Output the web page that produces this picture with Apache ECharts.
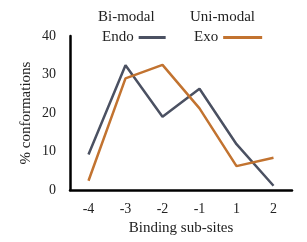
<!DOCTYPE html>
<html><head><meta charset="utf-8">
<script src="https://cdn.jsdelivr.net/npm/echarts@6/dist/echarts.min.js"></script>
<style>html,body{margin:0;padding:0;background:#fff}#c{width:307px;height:242px}</style>
</head><body><div id="c"></div>
<script>
var categories = ['-4','-3','-2','-1','1','2'];
var endo = [9.2, 32.4, 19.0, 26.3, 11.9, 1.1];
var exo = [2.4, 29.0, 32.5, 21.2, 6.2, 8.4];
var seriesNames = ['Endo','Exo'];
var groupTitles = ['Bi-modal','Uni-modal'];
var font = '"Liberation Serif", "Times New Roman", serif';
var chart = echarts.init(document.getElementById('c'), null, {renderer:'canvas'});
var legendText = {fontFamily:font,fontSize:15,color:'#222'};
chart.setOption({
  animation:false,
  backgroundColor:'#fff',
  textStyle:{fontFamily:font},
  grid:{left:70,right:15,top:36,bottom:52},
  graphic:[
    {type:'text',left:98,top:10,style:{text:groupTitles[0],font:'15px '+font,fill:'#222'}},
    {type:'text',left:190,top:10,style:{text:groupTitles[1],font:'15px '+font,fill:'#222'}}
  ],
  legend:[
    {data:[seriesNames[0]], left:97, top:25, align:'right', itemWidth:27, itemHeight:3, icon:'rect', textStyle:legendText},
    {data:[seriesNames[1]], left:189, top:25, align:'right', itemWidth:39, itemHeight:3, icon:'rect', textStyle:legendText}
  ],
  xAxis:{
    type:'category', data:categories, boundaryGap:true,
    axisLine:{lineStyle:{color:'#000',width:2.5}},
    axisTick:{show:false},
    axisLabel:{color:'#222',fontSize:14,fontFamily:font,margin:12},
    name:'Binding sub-sites', nameLocation:'middle', nameGap:31, nameMoveOverlap:false,
    nameTextStyle:{color:'#222',fontSize:15,fontFamily:font}
  },
  yAxis:{
    type:'value', min:0, max:40, interval:10,
    axisLine:{show:true,lineStyle:{color:'#000',width:2.5}},
    axisTick:{show:false}, splitLine:{show:false},
    axisLabel:{color:'#222',fontSize:14,fontFamily:font,margin:14},
    name:'% conformations', nameLocation:'middle', nameGap:36, nameMoveOverlap:false,
    nameTextStyle:{color:'#222',fontSize:15,fontFamily:font}
  },
  series:[
    {name:seriesNames[0],type:'line',data:endo,symbol:'none',lineStyle:{color:'#4b5162',width:2.5},itemStyle:{color:'#4b5162'}},
    {name:seriesNames[1],type:'line',data:exo,symbol:'none',lineStyle:{color:'#c27330',width:2.5},itemStyle:{color:'#c27330'}}
  ]
});
</script></body></html>
